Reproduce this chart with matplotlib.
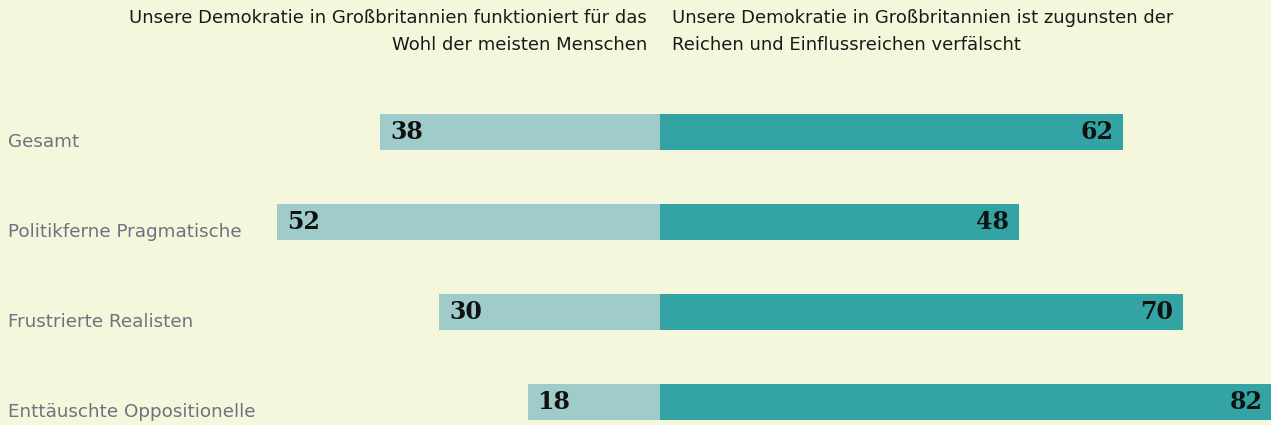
import matplotlib
matplotlib.use("Agg")
import matplotlib.pyplot as plt

categories = ["Gesamt", "Politikferne Pragmatische", "Frustrierte Realisten", "Enttäuschte Oppositionelle"]
left_values = [38, 52, 30, 18]
right_values = [62, 48, 70, 82]
left_header = "Unsere Demokratie in Großbritannien funktioniert für das\nWohl der meisten Menschen"
right_header = "Unsere Demokratie in Großbritannien ist zugunsten der\nReichen und Einflussreichen verfälscht"

BG = "#f5f7dc"
LIGHT = "#9fcbca"
DARK = "#33a3a3"
W, H, DPI = 1271, 425, 100
CX = 660  # centre line in pixels

fig = plt.figure(figsize=(W / DPI, H / DPI), dpi=DPI, facecolor=BG)
axl = fig.add_axes([0, 0, CX / W, 1])
axr = fig.add_axes([CX / W, 0, 1 - CX / W, 1])

ypos = list(range(len(categories)))
for ax in (axl, axr):
    ax.set_facecolor("none")
    ax.set_ylim(3.25, -1.472)
    ax.axis("off")

axl.barh(ypos, [-v for v in left_values], height=0.4, color=LIGHT)
axr.barh(ypos, right_values, height=0.4, color=DARK)
axl.set_xlim(-89.7, 0)
axr.set_xlim(0, 81.8)

vfont = dict(fontsize=17, fontweight="bold", family="DejaVu Serif", color="#111111")
for y, lv, rv, cat in zip(ypos, left_values, right_values, categories):
    axl.annotate(str(lv), (-lv, y), xytext=(10, 0), textcoords="offset pixels",
                 ha="left", va="center", annotation_clip=False, **vfont)
    axr.annotate(str(rv), (rv, y), xytext=(-10, 0), textcoords="offset pixels",
                 ha="right", va="center", annotation_clip=False, **vfont)
    axl.annotate(cat, (0, y), xycoords=("axes fraction", "data"),
                 xytext=(8, -10), textcoords="offset pixels",
                 ha="left", va="center", fontsize=13.2, color="#6b7280",
                 family="DejaVu Sans", annotation_clip=False)

fig.text(647 / W, 1 - 9 / H, left_header, ha="right", va="top", fontsize=13,
         color="#1a1a1a", linespacing=1.63, family="DejaVu Sans")
fig.text(672 / W, 1 - 9 / H, right_header, ha="left", va="top", fontsize=13,
         color="#1a1a1a", linespacing=1.63, family="DejaVu Sans")

fig.savefig("out.png", dpi=DPI, facecolor=BG)
